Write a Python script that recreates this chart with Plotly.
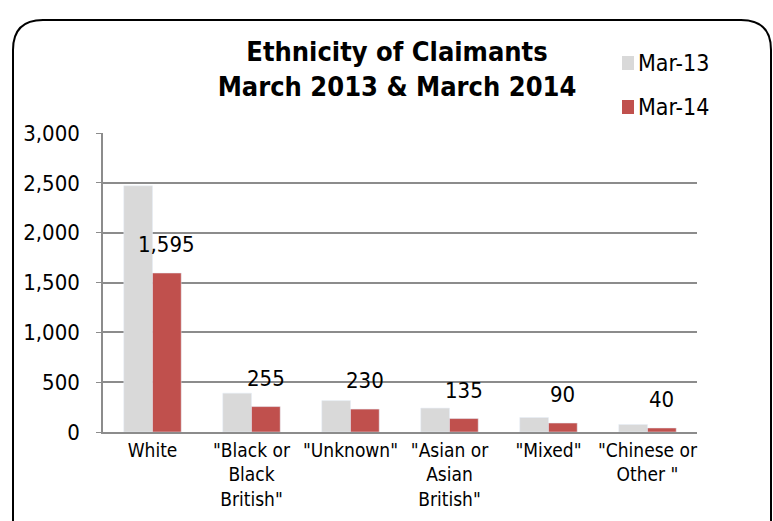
import plotly.graph_objects as go

categories = ["White", "\"Black or<br>Black<br>British\"", "\"Unknown\"",
              "\"Asian or<br>Asian<br>British\"", "\"Mixed\"", "\"Chinese or<br>Other \""]
mar13 = [2470, 390, 315, 240, 145, 75]
mar14 = [1595, 255, 230, 135, 90, 40]
y_ticks = [0, 500, 1000, 1500, 2000, 2500, 3000]

FONT = "DejaVu Sans Condensed, sans-serif"
GRID = "#8c8c8c"
C13, C14 = "#d9d9d9", "#c0504d"

W, H = 773, 521
L, R, T, B = 103, 76, 133, 89
pw, ph = W - L - R, H - T - B


def px(x):
    return (x - L) / pw


def py(y):
    return (H - B - y) / ph


fig = go.Figure()
fig.add_bar(x=categories, y=mar13, name="Mar-13", marker_color=C13, showlegend=False)
fig.add_bar(x=categories, y=mar14, name="Mar-14", marker_color=C14, showlegend=False)

# value labels above the Mar-14 bars
for c, v in zip(categories, mar14):
    fig.add_annotation(x=c, y=v, xref="x", yref="y", text=f"{v:,}",
                       showarrow=False, yanchor="bottom", xshift=14, yshift=14,
                       font=dict(family=FONT, size=22, color="black"))

# legend: square swatch + series name
for tr, yc in zip(fig.data, [63, 107]):
    fig.add_shape(type="rect", xref="paper", yref="paper",
                  x0=px(622), x1=px(634), y0=py(yc - 7), y1=py(yc + 7),
                  fillcolor=tr.marker.color, line=dict(width=0))
    fig.add_annotation(x=px(636), y=py(yc), xref="paper", yref="paper",
                       text=tr.name, showarrow=False, xanchor="left", yanchor="middle",
                       font=dict(family=FONT, size=23, color="black"))

# rounded chart frame
x0, y0, x1, rad = 13, 20, 771, 30
frame = (f"M {px(x0)},{py(H + 5)} L {px(x0)},{py(y0 + rad)} "
         f"Q {px(x0)},{py(y0)} {px(x0 + rad)},{py(y0)} "
         f"L {px(x1 - rad)},{py(y0)} Q {px(x1)},{py(y0)} {px(x1)},{py(y0 + rad)} "
         f"L {px(x1)},{py(H + 5)}")
fig.add_shape(type="path", path=frame, xref="paper", yref="paper",
              line=dict(color="black", width=2))

fig.update_layout(
    width=W, height=H,
    margin=dict(l=L, r=R, t=T, b=B),
    paper_bgcolor="white", plot_bgcolor="white",
    barmode="group", bargap=0.42, bargroupgap=0,
    font=dict(family=FONT, size=20, color="black"),
    title=dict(text="<b>Ethnicity of Claimants<br>March 2013 & March 2014</b>",
               x=px(397), xanchor="center", xref="paper",
               y=1 - 61 / H, yanchor="top", yref="container",
               font=dict(family=FONT, size=27, color="black")),
    showlegend=False,
)

fig.update_yaxes(range=[0, 3000], tickvals=y_ticks, tickformat=",",
                 showgrid=True, gridcolor=GRID, gridwidth=1.5,
                 showline=True, linecolor=GRID, linewidth=1.5,
                 ticks="outside", ticklen=5, tickcolor=GRID,
                 ticklabelstandoff=12, zeroline=False,
                 tickfont=dict(family=FONT, size=22, color="black"))
fig.update_xaxes(showline=True, linecolor=GRID, linewidth=1.5, ticks="",
                 tickfont=dict(family=FONT, size=19, color="black"))

fig.write_html("out.html")
